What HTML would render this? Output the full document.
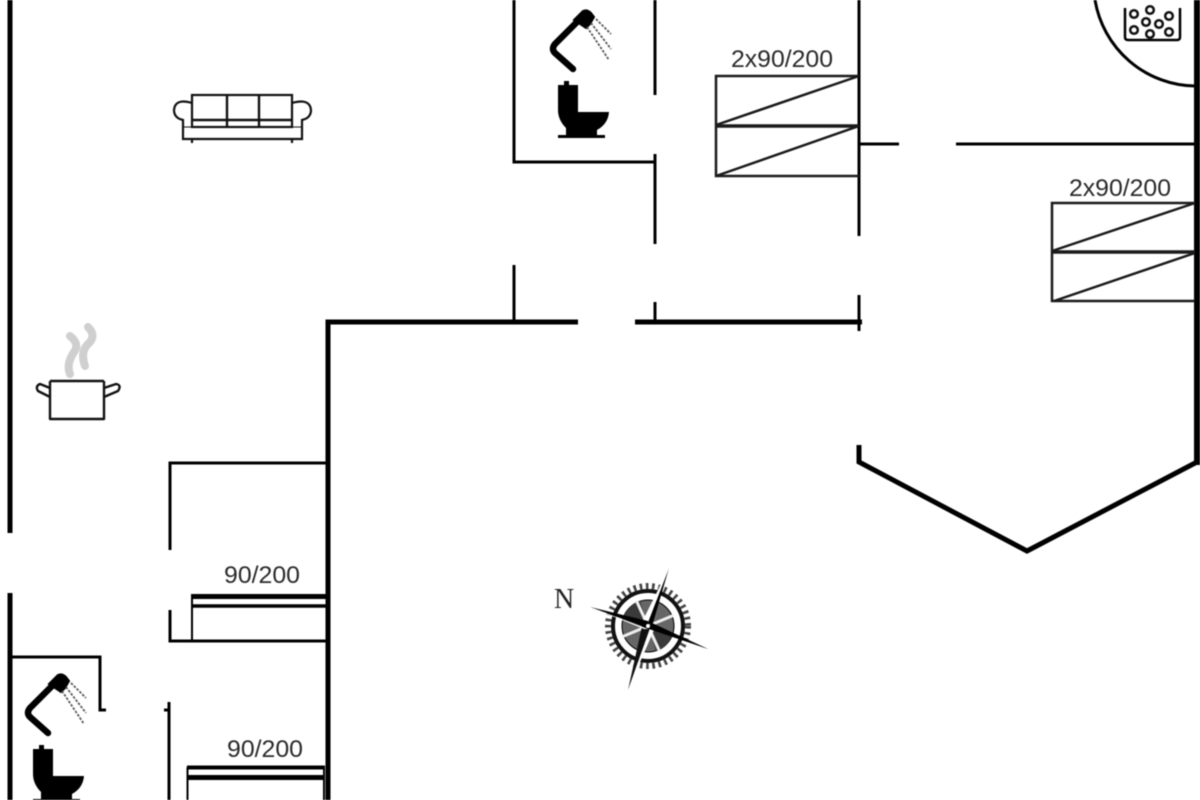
<!DOCTYPE html>
<html><head><meta charset="utf-8"><style>
html,body{margin:0;padding:0;background:#fff;width:1200px;height:800px;overflow:hidden}
svg{display:block;filter:blur(.5px)}
text{font-family:"Liberation Sans",sans-serif;font-size:24px;fill:#2a2a2a;stroke:none}
</style></head><body>
<svg width="1200" height="800" viewBox="0 0 1200 800" fill="none" stroke="#000" stroke-linecap="butt">
<defs>
<g id="bath">
<path d="M573 69L555 53Q551 49 555 44L580 19" stroke-width="6.500" stroke-linecap="round" stroke-linejoin="round"/>
<path d="M574 20L583 11Q587 9 591 13L594 17L590 24L586 28Z" fill="#000" stroke="#000" stroke-width="2"/>
<path d="M587 27L609 60M591 23L611 49M596 19L611 34" stroke="#555" stroke-width="1.800" stroke-dasharray="2.500 1.500"/>
<path d="M558 85H578V112H609Q608 124 597 130L597 135H605V138H558V135H566L566 128Q558 120 558 110Z M564 85V81H569V85Z" fill="#000" stroke="none"/>
</g>
</defs>

<!-- outer walls -->
<g stroke-width="5">
<path d="M10 0V533M10 593V800"/>
<path d="M328 800V322H578M635 322H862"/>
<path d="M859 445V462L1027 551L1197 462" stroke-linejoin="miter"/>
</g>
<path d="M1197 0V465" stroke-width="6"/>

<!-- inner walls -->
<g stroke-width="3">
<path d="M514 0V162H656"/>
<path d="M655 0V95M655 154V244M655 302V322"/>
<path d="M514 265V322"/>
<path d="M859 0V236M859 295V331"/>
<path d="M859 144H899M956 144H1195"/>
<path d="M328 463H170V550"/>
<path d="M170 610V641H328"/>
<path d="M169 702V800M164 710H170"/>
<path d="M10 657H100V710H106"/>
</g>

<!-- double beds -->
<g stroke-width="2.500" stroke="#1a1a1a">
<path d="M859 76H716V176H859"/>
<path d="M716 126H859" stroke-width="3.500"/>
<path d="M716 125L859 76M716 176L859 126"/>
<path d="M1195 203H1052V301H1195"/>
<path d="M1052 252H1195" stroke-width="3.500"/>
<path d="M1052 251L1195 203M1054 301L1195 253"/>
</g>
<text x="731" y="67" textLength="102" lengthAdjust="spacingAndGlyphs">2x90/200</text>
<text x="1069" y="196" textLength="102" lengthAdjust="spacingAndGlyphs">2x90/200</text>

<!-- single beds -->
<path d="M191 596.500H326" stroke-width="5"/>
<path d="M191 606H326" stroke-width="3.500"/>
<path d="M192 596V640" stroke-width="2"/>
<text x="224" y="583" textLength="76" lengthAdjust="spacingAndGlyphs">90/200</text>
<path d="M187 767.500H325" stroke-width="4"/>
<path d="M187 777.500H325" stroke-width="5"/>
<path d="M187.500 767V800M324 767V800" stroke-width="2"/>
<text x="227" y="757" textLength="76" lengthAdjust="spacingAndGlyphs">90/200</text>

<!-- bath fixtures -->
<use href="#bath"/>
<g transform="translate(-525 664)"><use href="#bath"/></g>

<!-- sofa -->
<g stroke-width="2.200" stroke="#111">
<rect x="192" y="95" width="100" height="32"/>
<path d="M227 95V127M259 95V127" stroke-width="2.400"/>
<path d="M192 120H292" stroke-width="2.400"/>
<path d="M192 103Q175 98 174 110Q174 118 183 120V139H302V120Q311 118 311 110Q310 98 292 103"/>
<path d="M183 127H192M292 127H302" stroke-width="1"/>
<path d="M192 139V143M292 139V143"/>
</g>

<!-- pot -->
<g stroke-width="2.400" stroke="#111" stroke-linejoin="round">
<path d="M50 381H104M50 381V419H104V381"/>
<path d="M50 397L38 391Q35 386 40 384L50 388M104 397L118 391Q122 385 116 384L104 388"/>
</g>
<path d="M70 374Q66 364 74 352Q80 344 70 336" stroke="#cfcfcf" stroke-width="8" stroke-linecap="round"/>
<path d="M85 366Q80 352 88 344Q97 336 88 327" stroke="#cfcfcf" stroke-width="8" stroke-linecap="round"/>

<!-- hot tub -->
<path d="M1095 0A103 103 0 0 0 1195 86" stroke-width="3"/>
<path d="M1125 8V37Q1125 40 1128 40H1177Q1180 40 1180 37V8" stroke-width="2.500"/>
<g stroke-width="2.500" stroke="#111">
<circle cx="1134" cy="14" r="3.800"/><circle cx="1150" cy="10" r="3.800"/><circle cx="1169" cy="16" r="3.800"/>
<circle cx="1146" cy="22" r="3.800"/><circle cx="1159" cy="24" r="3.800"/><circle cx="1134" cy="30" r="3.800"/>
<circle cx="1150" cy="34" r="3.800"/><circle cx="1169" cy="32" r="3.800"/>
</g>

<!-- compass -->
<text x="554" y="608" style="font-family:'Liberation Serif',serif;font-size:28px;fill:#222">N</text>
<g transform="translate(648 626)">
<circle r="40" stroke="#444" stroke-width="6" stroke-dasharray="2.600 3.600"/>
<circle r="35" stroke="#111" stroke-width="4"/>
<circle r="26" fill="#666"/>
<path d="M-24 -10A26 26 0 0 1 -8 -25L0 0ZM24 10A26 26 0 0 1 8 25L0 0Z" fill="#3a3a3a" stroke="none"/>
<g stroke="#eee" stroke-width="3" stroke-linecap="round">
<path d="M0 0L-11 -24M0 0L11 24M0 0L24 -10M0 0L-24 10"/>
</g>
<g stroke="none">
<path d="M21 -58L5 -3L-1 -1Z" fill="#000"/>
<path d="M21 -58L-1 -1L-6 -4Z" fill="#fff"/>
<path d="M-20 64L2 2L6 4Z" fill="#fff"/>
<path d="M-20 64L2 2L-6 0Z" fill="#111"/>
<path d="M-58 -19L0 -5L2 3Z" fill="#000"/>
<path d="M-58 -19L0 3L-4 3Z" fill="#fff"/>
<path d="M60 23L2 -4L6 2Z" fill="#000"/>
<path d="M60 23L-2 2L3 -3Z" fill="#000"/>
</g>
<circle r="2" fill="#fff" stroke="none"/>
</g>
</svg>
</body></html>
